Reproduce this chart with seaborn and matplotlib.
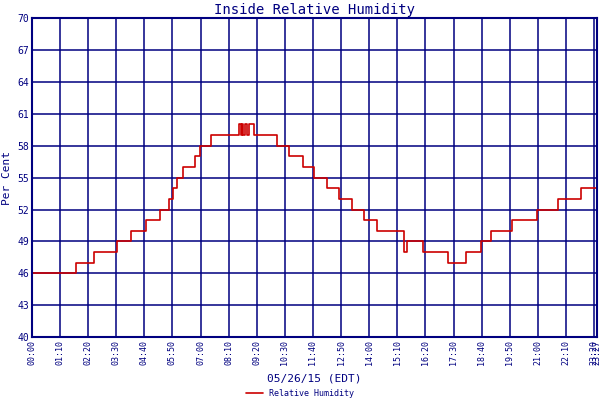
import matplotlib
matplotlib.use("Agg")
import matplotlib.pyplot as plt
import numpy as np
import pandas as pd
import seaborn as sns

# change points: minutes since midnight, humidity (%)
minutes = [0, 109, 156, 211, 248, 285, 318, 342, 352, 362, 377, 407, 419, 447, 481,
           516, 520, 523, 527, 531, 535, 540, 553, 610, 640, 675, 702, 734, 764, 797,
           826, 859, 926, 935, 937, 975, 1037, 1082, 1117, 1144, 1196, 1258, 1310,
           1367, 1407]
humidity = [46, 47, 48, 49, 50, 51, 52, 53, 54, 55, 56, 57, 58, 59, 59,
            60, 59, 60, 59, 60, 59, 60, 59, 58, 57, 56, 55, 54, 53, 52,
            51, 50, 48, 49, 49, 48, 47, 48, 49, 50, 51, 52, 53,
            54, 54]
tick_minutes = list(range(0, 1401, 70)) + [1407]
tick_labels = [f"{m // 60:02d}:{m % 60:02d}" for m in tick_minutes]
y_ticks = list(range(40, 71, 3))

navy = "#000080"
df = pd.DataFrame({"minute": minutes, "Relative Humidity": humidity})

sns.set_style("white")
plt.rcParams["font.family"] = "DejaVu Sans Mono"
fig, ax = plt.subplots(figsize=(6, 4), dpi=100)
fig.subplots_adjust(left=0.053, right=0.995, top=0.955, bottom=0.157)

sns.lineplot(data=df, x="minute", y="Relative Humidity", drawstyle="steps-post",
             color="#cc0000", linewidth=1.2, label="Relative Humidity", ax=ax)

ax.set_xlim(0, 1407)
ax.set_ylim(40, 70)
ax.set_xticks(tick_minutes)
ax.set_xticklabels(tick_labels, rotation=90, fontsize=6, color=navy)
ax.set_yticks(y_ticks)
ax.set_yticklabels([str(v) for v in y_ticks], fontsize=7, color=navy)
ax.tick_params(length=0, pad=2)
ax.grid(True, color=navy, linewidth=1.1)
ax.set_axisbelow(True)
for s in ax.spines.values():
    s.set_color(navy)
    s.set_linewidth(1.5)
ax.set_title("Inside Relative Humidity", color=navy, fontsize=10, pad=3)
ax.set_xlabel("05/26/15 (EDT)", color=navy, fontsize=8, labelpad=6)
ax.set_ylabel("Per Cent", color=navy, fontsize=8, labelpad=4)
ax.legend(loc="lower center", bbox_to_anchor=(0.5, 0.0), bbox_transform=fig.transFigure,
          frameon=False, fontsize=6, labelcolor=navy, handlelength=2,
          borderaxespad=0.1, borderpad=0.1)

fig.savefig("out.png")
